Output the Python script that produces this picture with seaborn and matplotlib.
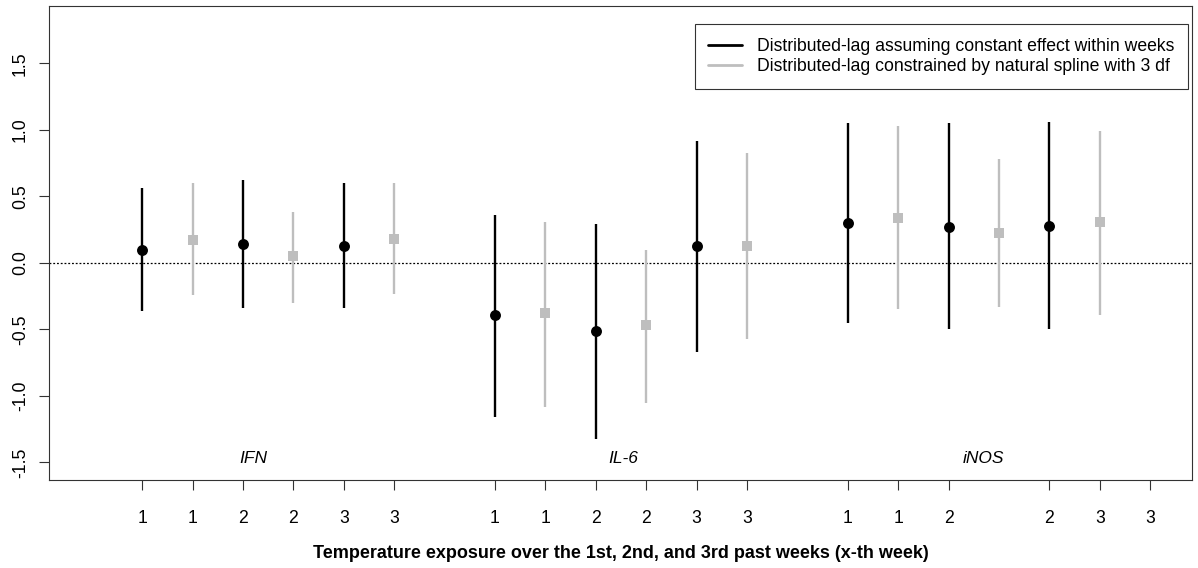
import matplotlib
matplotlib.use("Agg")
import matplotlib.pyplot as plt
import numpy as np
import pandas as pd
import seaborn as sns
from matplotlib.lines import Line2D

# estimates (three markers, three lags, two methods)
markers = ["IFN", "IL-6", "iNOS"]
weeks = [1, 2, 3]
methods = [
    "Distributed-lag assuming constant effect within weeks",
    "Distributed-lag constrained by natural spline with 3 df",
]

# constant-effect model (black)
const_est = [0.10, 0.14, 0.13, -0.39, -0.51, 0.13, 0.30, 0.27, 0.28]
const_lo = [-0.36, -0.34, -0.34, -1.16, -1.32, -0.67, -0.45, -0.50, -0.50]
const_hi = [0.56, 0.62, 0.60, 0.36, 0.29, 0.92, 1.05, 1.05, 1.06]

# natural spline model (grey)
spline_est = [0.175, 0.05, 0.18, -0.38, -0.47, 0.13, 0.34, 0.225, 0.305]
spline_lo = [-0.24, -0.30, -0.23, -1.08, -1.05, -0.57, -0.35, -0.33, -0.39]
spline_hi = [0.60, 0.385, 0.60, 0.31, 0.10, 0.83, 1.03, 0.78, 0.99]

tick_labels = ["1", "1", "2", "2", "3", "3"]
# the original iNOS axis labels skip one slot
tick_slots = {"IFN": [0, 1, 2, 3, 4, 5], "IL-6": [0, 1, 2, 3, 4, 5], "iNOS": [0, 1, 2, 4, 5, 6]}
group_label_offset = {"IFN": 2.2, "IL-6": 2.55, "iNOS": 2.7}

palette = {methods[0]: "black", methods[1]: "#BEBEBE"}

rows = []
for gi, marker in enumerate(markers):
    for wi, week in enumerate(weeks):
        k = gi * 3 + wi
        base = 1 + gi * 7 + wi * 2
        rows.append((marker, week, methods[0], base, const_est[k], const_lo[k], const_hi[k]))
        rows.append((marker, week, methods[1], base + 1, spline_est[k], spline_lo[k], spline_hi[k]))
df = pd.DataFrame(rows, columns=["marker", "week", "method", "x", "est", "lo", "hi"])

sns.set_theme(style="white")
plt.rcParams["font.family"] = ["Liberation Sans", "DejaVu Sans"]
plt.rcParams["text.color"] = "black"
plt.rcParams["axes.labelcolor"] = "black"

fig = plt.figure(figsize=(11.98, 5.68), dpi=100)
ax = fig.add_axes([49 / 1198, 88 / 568, 1143 / 1198, 474 / 568])

ax.axhline(0, color="black", lw=0.9, linestyle=(0, (1.5, 1.5)), zorder=1)
for method in methods:
    sub = df[df["method"] == method]
    ax.vlines(sub["x"], sub["lo"], sub["hi"], color=palette[method], lw=1.7, zorder=2)

sns.scatterplot(
    data=df[df["method"] == methods[0]], x="x", y="est", color="black",
    marker="o", s=62, edgecolor="black", linewidth=0, ax=ax, zorder=3, legend=False,
)
sns.scatterplot(
    data=df[df["method"] == methods[1]], x="x", y="est", color="#BEBEBE",
    marker="s", s=48, edgecolor="#BEBEBE", linewidth=0, ax=ax, zorder=3, legend=False,
)

ticks = []
labels = []
for gi, marker in enumerate(markers):
    for slot, lab in zip(tick_slots[marker], tick_labels):
        ticks.append(1 + gi * 7 + slot)
        labels.append(lab)
    ax.text(1 + gi * 7 + group_label_offset[marker], -1.47, marker, style="italic",
            fontsize=12.5, ha="center", va="center", color="black")

ax.set_xticks(ticks)
ax.set_xticklabels(labels)
ax.set_yticks([-1.5, -1.0, -0.5, 0.0, 0.5, 1.0, 1.5])
ax.set_yticklabels(["-1.5", "-1.0", "-0.5", "0.0", "0.5", "1.0", "1.5"])
ax.set_xlim(-0.85, 21.83)
ax.set_ylim(-1.632, 1.932)

ax.tick_params(axis="both", which="major", direction="out", length=7.5, width=0.8,
               color="#333333", labelsize=12.7, labelcolor="black", bottom=True, left=True)
ax.tick_params(axis="x", pad=14)
ax.tick_params(axis="y", pad=7, labelrotation=90)
plt.setp(ax.get_yticklabels(), va="center")

for sp in ax.spines.values():
    sp.set_visible(True)
    sp.set_color("#333333")
    sp.set_linewidth(0.8)

ax.set_xlabel("Temperature exposure over the 1st, 2nd, and 3rd past weeks (x-th week)",
              fontsize=13, fontweight="bold", color="black")
ax.xaxis.set_label_coords(0.5, (480 - 553) / 474)
ax.xaxis.label.set_va("center")
ax.set_ylabel("")

handles = [Line2D([], [], color=palette[m], lw=2) for m in methods]
leg = ax.legend(handles, methods, loc="upper right", bbox_to_anchor=(0.9965, 0.962),
                borderaxespad=0, fontsize=12.7, frameon=True, fancybox=False,
                handlelength=1.9, handletextpad=0.85, labelspacing=0.2, borderpad=0.78)
leg.get_frame().set_edgecolor("black")
leg.get_frame().set_linewidth(0.8)
for t in leg.get_texts():
    t.set_color("black")

fig.savefig("out.png", dpi=100)
